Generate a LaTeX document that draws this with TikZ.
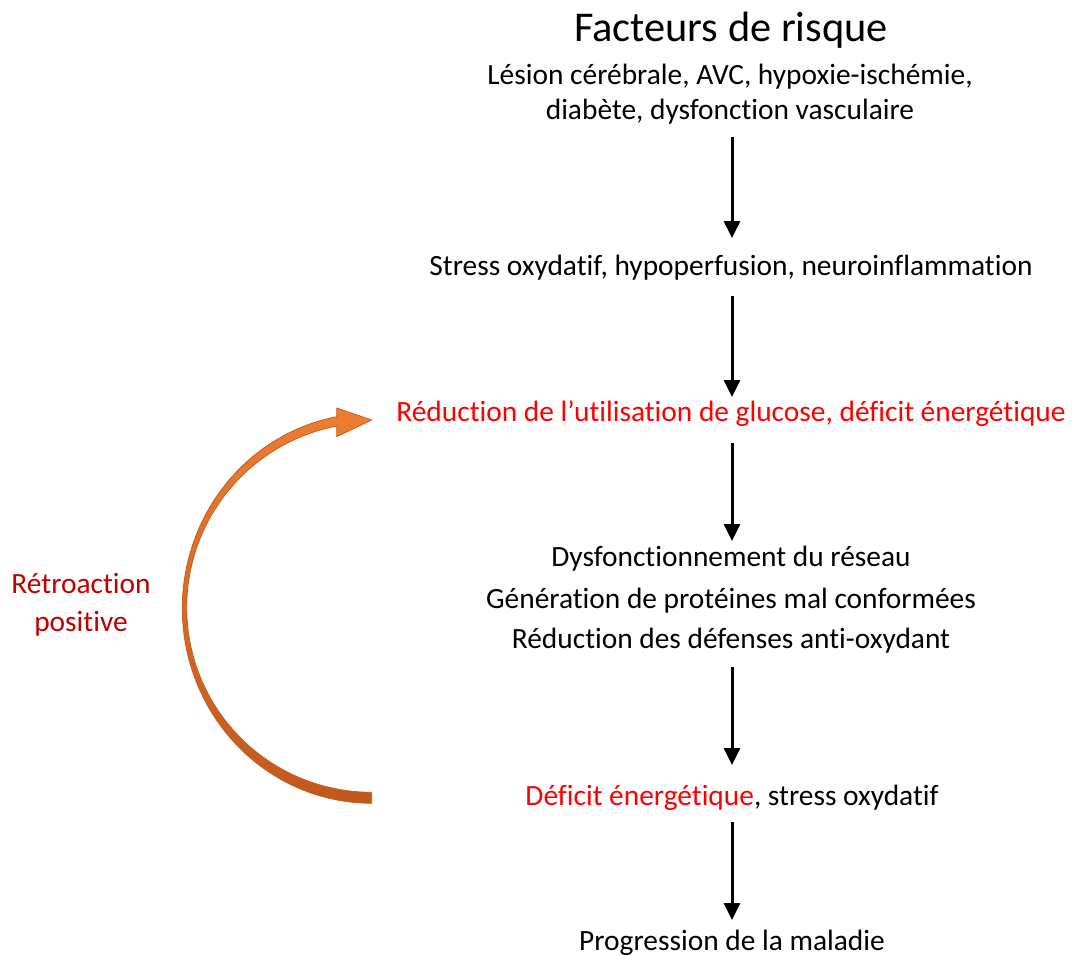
\documentclass[tikz,border=0pt]{standalone}
\usepackage{fontspec}
\setmainfont{Carlito}[Ligatures={NoCommon,NoContextual}, RawFeature={-liga;-clig;-dlig}]
\usetikzlibrary{arrows.meta}
\definecolor{redtxt}{RGB}{255,0,0}
\definecolor{darkred}{RGB}{192,0,0}
\definecolor{orA}{RGB}{237,125,49}
\definecolor{orB}{RGB}{192,88,30}
\definecolor{orLine}{RGB}{200,95,30}
\begin{document}
\begin{tikzpicture}[x=1pt,y=-1pt,
  txt/.style={inner sep=0pt, anchor=base, font=\fontsize{29.4}{35}\selectfont},
  title/.style={inner sep=0pt, anchor=base, font=\fontsize{42.4}{50}\selectfont},
  flow/.style={line width=3pt, -{Triangle[width=16pt,length=17pt]}},
  feedback/.style={draw=orLine, line width=0.8pt, top color=orA, bottom color=orB},
]
\useasboundingbox (0,0) rectangle (1072,956);
% texts
\node[title] (titre) at (731,41) {Facteurs de risque};
\node[txt] (lesion) at (730,84) {Lésion cérébrale, AVC, hypoxie-ischémie,};
\node[txt] (diabete) at (730,119) {diabète, dysfonction vasculaire};
\node[txt] (stress) at (731,275) {Stress oxydatif, hypoperfusion, neuroinflammation};
\node[txt, text=redtxt] (reduc) at (731,421) {Réduction de l’utilisation de glucose, déficit énergétique};
\node[txt] (dysf) at (731,566) {Dysfonctionnement du réseau};
\node[txt] (gener) at (731,608) {Génération de protéines mal conformées};
\node[txt] (defense) at (731,648) {Réduction des défenses anti-oxydant};
\node[txt] (deficit) at (732,805) {\textcolor{redtxt}{Déficit énergétique}, stress oxydatif};
\node[txt] (progr) at (732,950) {Progression de la maladie};
\node[txt, text=darkred] (retro1) at (81,593) {Rétroaction};
\node[txt, text=darkred] (retro2) at (81,631) {positive};
% vertical arrows
\draw[flow, shorten <=18pt, shorten >=37pt] (diabete.base -| 732,0) -- (stress.base -| 732,0);
\draw[flow, shorten <=21pt, shorten >=24pt] (stress.base -| 732,0) -- (reduc.base -| 732,0);
\draw[flow, shorten <=22pt, shorten >=25pt] (reduc.base -| 732,0) -- (dysf.base -| 732,0);
\draw[flow, shorten <=19pt, shorten >=40pt] (defense.base -| 732,0) -- (deficit.base -| 732,0);
\draw[flow, shorten <=17pt, shorten >=30pt] (deficit.base -| 732,0) -- (progr.base -| 732,0);
% curved feedback arrow
\path[feedback]
  plot[domain=259.35:90, samples=90] ({371.7+189.4*cos(\x)}, {608.3+195*sin(\x)})
  -- plot[domain=90:259.09, samples=90] ({371.7+185*cos(\x)}, {607.5+184.8*sin(\x)})
  -- (336.7,436.7) -- (371.7,420) -- (336.7,408) -- cycle;
\end{tikzpicture}
\end{document}
